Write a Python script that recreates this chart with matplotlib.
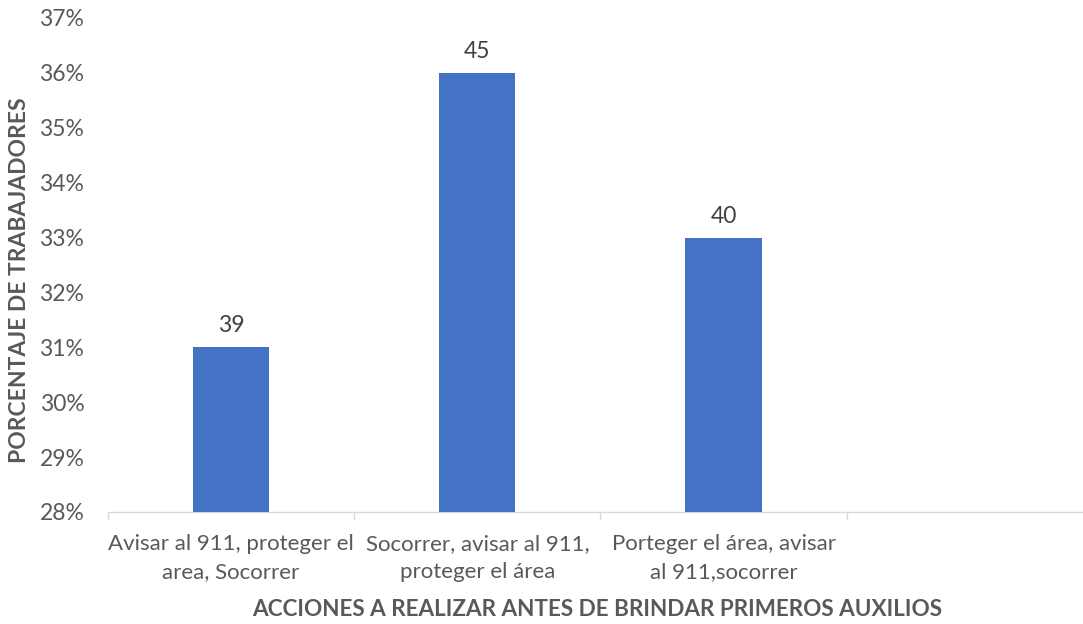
import matplotlib
matplotlib.use("Agg")
import matplotlib.pyplot as plt
from matplotlib.ticker import FuncFormatter

categories = [
    "Avisar al 911, proteger el\narea, Socorrer",
    "Socorrer, avisar al 911,\nproteger el área",
    "Porteger el área, avisar\nal 911,socorrer",
]
percentages = [31, 36, 33]
counts = [39, 45, 40]
y_ticks = [28, 29, 30, 31, 32, 33, 34, 35, 36, 37]

plt.rcParams["font.family"] = ["Lato", "DejaVu Sans"]
text_color = "#595959"
bar_color = "#4472C4"

fig = plt.figure(figsize=(10.83, 6.24), dpi=100)
ax = fig.add_axes([108 / 1083, 1 - 512 / 624, 1 - 108 / 1083, (512 - 18) / 624])

x = list(range(len(categories)))
ax.bar(x, percentages, width=0.31, color=bar_color, zorder=3)
for xi, p, c in zip(x, percentages, counts):
    ax.text(xi, p + 0.2, str(c), ha="center", va="bottom", fontsize=16.5, color="#404040")

ax.set_xlim(-0.5, 3.46)
ax.set_ylim(28, 37)
ax.set_yticks(y_ticks)
ax.yaxis.set_major_formatter(FuncFormatter(lambda v, _: f"{v:.0f}%"))
ax.set_xticks(x)
ax.set_xticklabels(categories, fontsize=16, color=text_color, linespacing=1.5)

# Category separators along the baseline
ax.set_xticks([-0.5, 0.5, 1.5, 2.5], minor=True)
ax.tick_params(axis="x", which="major", length=0, pad=16)
ax.tick_params(axis="x", which="minor", length=6, color="#d9d9d9", width=1)
ax.tick_params(axis="y", length=0, labelsize=16.5, labelcolor=text_color, pad=17)

for side in ["top", "right", "left"]:
    ax.spines[side].set_visible(False)
ax.spines["bottom"].set_color("#d9d9d9")
ax.spines["bottom"].set_linewidth(1)

fig.text(20 / 1083, 1 - 280 / 624, "PORCENTAJE DE TRABAJADORES", rotation=90,
         ha="center", va="center", fontsize=16.5, fontweight="bold", color=text_color)
fig.text(597 / 1083, 1 - 610 / 624, "ACCIONES A REALIZAR ANTES DE BRINDAR PRIMEROS AUXILIOS",
         ha="center", va="center", fontsize=16.2, fontweight="bold", color=text_color)

fig.savefig("out.png", dpi=100)
